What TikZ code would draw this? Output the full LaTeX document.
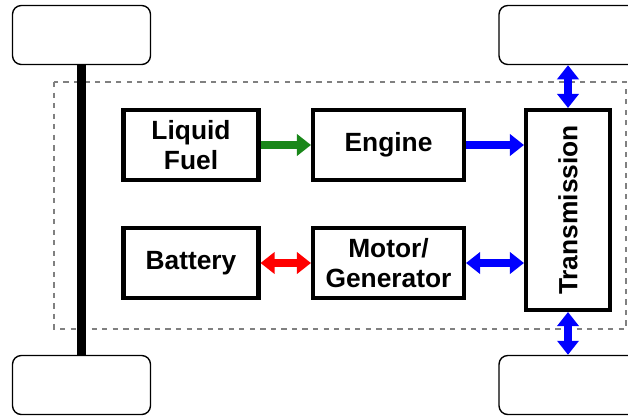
\documentclass[tikz,border=0pt]{standalone}
\usepackage{fontspec}
\setmainfont{Liberation Sans}
\usetikzlibrary{arrows.meta}
\definecolor{fuelgreen}{RGB}{25,135,25}
\begin{document}
\begin{tikzpicture}[x=0.02cm,y=-0.02cm,
		box/.style={draw,line width=2.3pt,align=center,font=\fontsize{15}{17}\selectfont\bfseries,inner sep=0pt},
		wheel/.style={draw,line width=0.8pt,rounded corners=5pt,minimum width=2.76cm,minimum height=1.18cm},
		flow/.style={line width=4pt,-{Triangle[length=8pt,width=12pt]}},
		both/.style={line width=4pt,{Triangle[length=8pt,width=12pt]}-{Triangle[length=8pt,width=12pt]}}]
		\clip (0,0) rectangle (628,416);
		\useasboundingbox (0,0) rectangle (628,416);
		\draw[gray,dashed,line width=0.8pt] (54,82) rectangle (626,329);
		\node[wheel] (tlw) at (81.5,35) {};
		\node[wheel] (trw) at (568,35) {};
		\node[wheel] (blw) at (81.5,385) {};
		\node[wheel] (brw) at (568,385) {};
		\draw[line width=4.6pt] (tlw.south) -- (blw.north);
		\node[box,minimum width=2.7cm,minimum height=1.4cm] (fuel) at (191,145) {Liquid\\Fuel};
		\node[box,minimum width=3.02cm,minimum height=1.4cm] (eng) at (388.5,145) {Engine};
		\node[box,minimum width=2.7cm,minimum height=1.4cm] (bat) at (191,263) {Battery};
		\node[box,minimum width=3.02cm,minimum height=1.4cm] (mot) at (388.5,263) {Motor/\\Generator};
		\node[box,minimum width=1.68cm,minimum height=4.0cm] (trans) at (568,210) {\rotatebox{90}{Transmission}};
		\draw[flow,fuelgreen] (fuel.east) -- (eng.west);
		\draw[flow,blue] (eng.east) -- (eng.east -| trans.west);
		\draw[both,red] (bat.east) -- (mot.west);
		\draw[both,blue] (mot.east) -- (mot.east -| trans.west);
		\draw[both,blue] (trans.north) -- (trw.south);
		\draw[both,blue] (trans.south) -- (brw.north);
\end{tikzpicture}
\end{document}
